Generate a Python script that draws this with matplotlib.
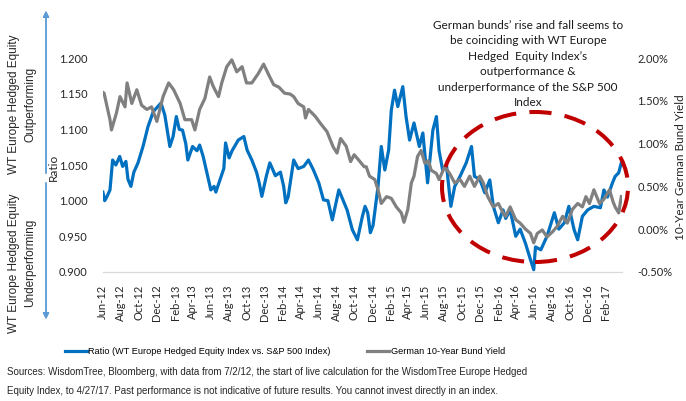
import matplotlib
matplotlib.use("Agg")
import matplotlib.pyplot as plt
from matplotlib.patches import Ellipse
from matplotlib.ticker import FuncFormatter
import pandas as pd

# Ratio of WT Europe Hedged Equity Index vs S&P 500 (left axis)
ratio_dates = [
    "2012-06-01", "2012-06-07", "2012-06-14", "2012-06-25", "2012-07-04", "2012-07-15", "2012-07-28",
    "2012-08-07", "2012-08-18", "2012-08-25", "2012-09-04", "2012-09-14", "2012-09-28", "2012-10-15",
    "2012-11-01", "2012-11-19", "2012-12-04", "2012-12-15", "2012-12-28", "2013-01-14", "2013-01-25",
    "2013-02-05", "2013-02-15", "2013-02-26", "2013-03-09", "2013-03-16", "2013-04-01", "2013-04-16",
    "2013-04-25", "2013-05-07", "2013-05-19", "2013-06-02", "2013-06-13", "2013-06-19", "2013-07-07",
    "2013-07-16", "2013-07-22", "2013-08-03", "2013-08-13", "2013-09-03", "2013-09-22", "2013-10-03",
    "2013-10-19", "2013-11-04", "2013-11-13", "2013-11-22", "2013-12-07", "2013-12-19", "2014-01-07",
    "2014-01-24", "2014-02-04", "2014-02-11", "2014-02-19", "2014-03-10", "2014-03-25", "2014-04-13",
    "2014-04-29", "2014-05-16", "2014-06-03", "2014-06-19", "2014-07-04", "2014-07-19", "2014-07-28",
    "2014-08-10", "2014-08-25", "2014-09-07", "2014-09-25", "2014-10-12", "2014-10-29", "2014-11-07",
    "2014-11-16", "2014-11-25", "2014-12-04", "2014-12-21", "2015-01-01", "2015-01-13", "2015-01-26",
    "2015-02-04", "2015-02-15", "2015-02-26", "2015-03-15", "2015-03-26", "2015-04-07", "2015-04-22",
    "2015-05-10", "2015-05-22", "2015-06-07", "2015-06-25", "2015-07-07", "2015-07-16", "2015-07-28",
    "2015-08-10", "2015-08-25", "2015-09-07", "2015-09-25", "2015-10-16", "2015-11-03", "2015-11-13",
    "2015-12-01", "2015-12-18", "2016-01-04", "2016-01-16", "2016-02-02", "2016-02-18", "2016-02-27",
    "2016-03-13", "2016-04-01", "2016-04-16", "2016-05-04", "2016-05-21", "2016-06-01", "2016-06-07",
    "2016-06-25", "2016-07-16", "2016-08-10", "2016-08-25", "2016-09-13", "2016-09-28", "2016-10-16",
    "2016-10-28", "2016-11-13", "2016-12-01", "2016-12-22", "2017-01-13", "2017-01-25", "2017-02-06",
    "2017-02-23", "2017-03-04", "2017-03-16", "2017-03-25",
]
ratio = [
    1.012, 1.000, 1.005, 1.015, 1.057, 1.050, 1.062,
    1.048, 1.055, 1.030, 1.020, 1.040, 1.053, 1.076,
    1.104, 1.125, 1.132, 1.137, 1.120, 1.076, 1.090,
    1.118, 1.100, 1.099, 1.080, 1.057, 1.076, 1.070,
    1.078, 1.062, 1.040, 1.015, 1.020, 1.012, 1.034,
    1.045, 1.081, 1.060, 1.070, 1.085, 1.090, 1.071,
    1.057, 1.040, 1.025, 1.006, 1.034, 1.053, 1.035,
    1.040, 1.020, 0.997, 1.005, 1.057, 1.045, 1.048,
    1.057, 1.043, 1.025, 1.001, 1.000, 0.973, 0.990,
    1.015, 1.000, 0.987, 0.959, 0.945, 0.978, 0.992,
    0.983, 0.955, 0.965, 1.020, 1.076, 1.043, 1.071,
    1.127, 1.155, 1.132, 1.160, 1.118, 1.085, 1.109,
    1.076, 1.095, 1.025, 1.099, 1.118, 1.070, 1.043,
    1.050, 0.992, 1.020, 1.034, 1.053, 1.076, 1.034,
    1.030, 1.011, 1.029, 0.992, 0.969, 0.987, 0.975,
    0.987, 0.950, 0.960, 0.940, 0.917, 0.903, 0.935,
    0.931, 0.950, 0.983, 0.960, 0.969, 0.992, 0.959,
    0.945, 0.978, 0.987, 0.992, 0.990, 1.015, 1.005,
    1.025, 1.034, 1.039, 1.053,
]

# German 10-year bund yield in % (right axis)
bund_dates = [
    "2012-06-01", "2012-06-05", "2012-06-14", "2012-06-25", "2012-06-30", "2012-07-17", "2012-07-29",
    "2012-08-15", "2012-08-22", "2012-09-07", "2012-09-24", "2012-10-10", "2012-10-28", "2012-11-13",
    "2012-12-01", "2012-12-22", "2013-01-10", "2013-01-27", "2013-02-18", "2013-03-06", "2013-03-29",
    "2013-04-09", "2013-04-25", "2013-05-13", "2013-05-29", "2013-06-10", "2013-06-28", "2013-07-09",
    "2013-07-26", "2013-08-12", "2013-08-29", "2013-09-16", "2013-10-01", "2013-10-19", "2013-11-10",
    "2013-11-28", "2013-12-16", "2014-01-01", "2014-01-19", "2014-02-07", "2014-02-26", "2014-03-10",
    "2014-03-25", "2014-04-13", "2014-04-19", "2014-04-29", "2014-05-22", "2014-06-08", "2014-07-01",
    "2014-07-22", "2014-08-04", "2014-08-16", "2014-09-04", "2014-09-19", "2014-10-01", "2014-10-16",
    "2014-11-04", "2014-11-11", "2014-11-22", "2014-12-10", "2014-12-21", "2015-01-01", "2015-01-19",
    "2015-02-04", "2015-02-21", "2015-03-10", "2015-03-19", "2015-04-01", "2015-04-13", "2015-04-22",
    "2015-05-04", "2015-05-16", "2015-05-29", "2015-06-10", "2015-06-19", "2015-07-07", "2015-07-16",
    "2015-08-04", "2015-08-21", "2015-09-07", "2015-09-25", "2015-10-10", "2015-10-28", "2015-11-13",
    "2015-12-01", "2015-12-13", "2015-12-28", "2016-01-16", "2016-02-02", "2016-02-18", "2016-02-27",
    "2016-03-13", "2016-04-01", "2016-04-16", "2016-05-04", "2016-05-21", "2016-06-01", "2016-06-13",
    "2016-06-30", "2016-07-16", "2016-08-04", "2016-08-19", "2016-09-07", "2016-09-23", "2016-10-10",
    "2016-10-28", "2016-11-13", "2016-11-25", "2016-12-07", "2016-12-22", "2017-01-10", "2017-01-25",
    "2017-02-13", "2017-02-25", "2017-03-04", "2017-03-16", "2017-03-25",
]
bund_yield = [
    1.60, 1.59, 1.45, 1.28, 1.16, 1.36, 1.55,
    1.43, 1.71, 1.47, 1.63, 1.45, 1.40, 1.43,
    1.26, 1.55, 1.71, 1.63, 1.47, 1.28, 1.28,
    1.16, 1.40, 1.53, 1.78, 1.67, 1.55, 1.71,
    1.90, 1.98, 1.84, 1.90, 1.71, 1.71, 1.82,
    1.93, 1.80, 1.69, 1.66, 1.59, 1.58, 1.55,
    1.47, 1.43, 1.30, 1.40, 1.32, 1.24, 1.14,
    0.96, 0.89, 1.06, 0.97, 0.79, 0.87, 0.81,
    0.73, 0.73, 0.62, 0.58, 0.46, 0.30, 0.38,
    0.36, 0.26, 0.19, 0.08, 0.23, 0.54, 0.62,
    0.85, 0.92, 0.77, 0.80, 0.69, 0.65, 0.58,
    0.73, 0.65, 0.54, 0.58, 0.50, 0.62, 0.50,
    0.62, 0.54, 0.38, 0.26, 0.30, 0.19, 0.15,
    0.26, 0.11, 0.07, 0.00, -0.05, -0.16, -0.05,
    -0.01, -0.09, -0.03, 0.03, 0.15, 0.07, 0.23,
    0.30, 0.26, 0.38, 0.30, 0.46, 0.30, 0.35,
    0.46, 0.32, 0.26, 0.19, 0.38,
]

ratio_ticks = [0.900, 0.950, 1.000, 1.050, 1.100, 1.150, 1.200]
yield_ticks = [-0.5, 0.0, 0.5, 1.0, 1.5, 2.0]

BLUE = "#0070C0"
GRAY = "#808080"
TXT = "#262626"

plt.rcParams["font.family"] = ["Lato", "DejaVu Sans"]
arial = ["Liberation Sans", "DejaVu Sans"]

fig = plt.figure(figsize=(6.86, 4.01), dpi=100)
ax = fig.add_axes([0.150, 0.322, 0.757, 0.533])
ax2 = ax.twinx()

l1, = ax.plot(pd.to_datetime(ratio_dates), ratio, color=BLUE, lw=2.3,
              label="Ratio (WT Europe Hedged Equity Index vs. S&P 500 Index)")
l2, = ax2.plot(pd.to_datetime(bund_dates), bund_yield, color=GRAY, lw=2.3,
               label="German 10-Year Bund Yield")

ax.set_xlim(pd.Timestamp("2012-06-01"), pd.Timestamp("2017-03-28"))
ax.set_ylim(0.9, 1.2)
ax2.set_ylim(-0.5, 2.0)
ax.set_yticks(ratio_ticks)
ax2.set_yticks(yield_ticks)
ax.yaxis.set_major_formatter(FuncFormatter(lambda v, p: f"{v:.3f}"))
ax2.yaxis.set_major_formatter(FuncFormatter(lambda v, p: f"{v:.2f}%"))

months = pd.date_range("2012-06-01", "2017-02-01", freq="2MS")
ax.set_xticks(months)
ax.set_xticklabels([d.strftime("%b-%y") for d in months], rotation=90)

for a in (ax, ax2):
    for s in ("left", "right", "top"):
        a.spines[s].set_visible(False)
    a.spines["bottom"].set_color("#D9D9D9")
    a.tick_params(length=0, labelsize=8, colors=TXT)
ax.tick_params(axis="y", pad=11)
ax.tick_params(axis="x", pad=9)
ax2.tick_params(axis="y", pad=11)

fig.text(53 / 686, 1 - 167 / 401, "Ratio", rotation=90, ha="center", va="center",
         fontsize=8.5, color=TXT)
fig.text(680 / 686, 1 - 167 / 401, "10-Year German Bund Yield", rotation=90,
         ha="center", va="center", fontsize=8.5, color=TXT)

# annotation with dashed ellipse
fig.text(528 / 686, 1 - 64 / 401,
         "German bunds\u2019 rise and fall seems to\nbe coinciding with WT Europe\n"
         "Hedged  Equity Index\u2019s\noutperformance &\n"
         "underperformance of the S&P 500\nIndex",
         ha="center", va="center", fontsize=8.5, linespacing=1.5, color="#1a1a1a")
fig.add_artist(Ellipse((535 / 686, 1 - 187 / 401), 186 / 686, 150 / 401,
                       transform=fig.transFigure, fill=False, ec="#C00000",
                       lw=2.9, ls=(0, (5.5, 3.3)), zorder=5))

# left out/under-performing arrows
arrow_kw = dict(arrowstyle="-|>", color="#5B9BD5", lw=1.0, mutation_scale=9)
fig.add_artist(plt.annotate("", xy=(46 / 686, 1 - 8 / 401), xytext=(46 / 686, 1 - 176 / 401),
                            xycoords="figure fraction", arrowprops=arrow_kw))
fig.add_artist(plt.annotate("", xy=(46 / 686, 1 - 322 / 401), xytext=(46 / 686, 1 - 180 / 401),
                            xycoords="figure fraction", arrowprops=arrow_kw))
fig.text(22 / 686, 1 - 104 / 401, "WT Europe Hedged Equity\nOutperforming", rotation=90,
         ha="center", va="center", multialignment="center", fontsize=8.5,
         linespacing=1.45, color=TXT, family=arial)
fig.text(22 / 686, 1 - 263 / 401, "WT Europe Hedged Equity\nUnderperforming", rotation=90,
         ha="center", va="center", multialignment="center", fontsize=8.5,
         linespacing=1.45, color=TXT, family=arial)

fig.legend(handles=[l1, l2], loc="center", bbox_to_anchor=(285 / 686, 1 - 352 / 401),
           ncol=2, frameon=False, handlelength=2.4, handletextpad=0.15,
           columnspacing=4.0, prop={"family": arial, "size": 6.6})

fig.text(7 / 686, 1 - 372 / 401,
         "Sources: WisdomTree, Bloomberg, with data from 7/2/12, the start of live calculation "
         "for the WisdomTree Europe Hedged", ha="left", va="center", fontsize=7.0,
         color=TXT, family=arial)
fig.text(7 / 686, 1 - 391 / 401,
         "Equity Index, to 4/27/17. Past performance is not indicative of future results. "
         "You cannot invest directly in an index.", ha="left", va="center", fontsize=7.0,
         color=TXT, family=arial)

fig.savefig("out.png", dpi=100)
